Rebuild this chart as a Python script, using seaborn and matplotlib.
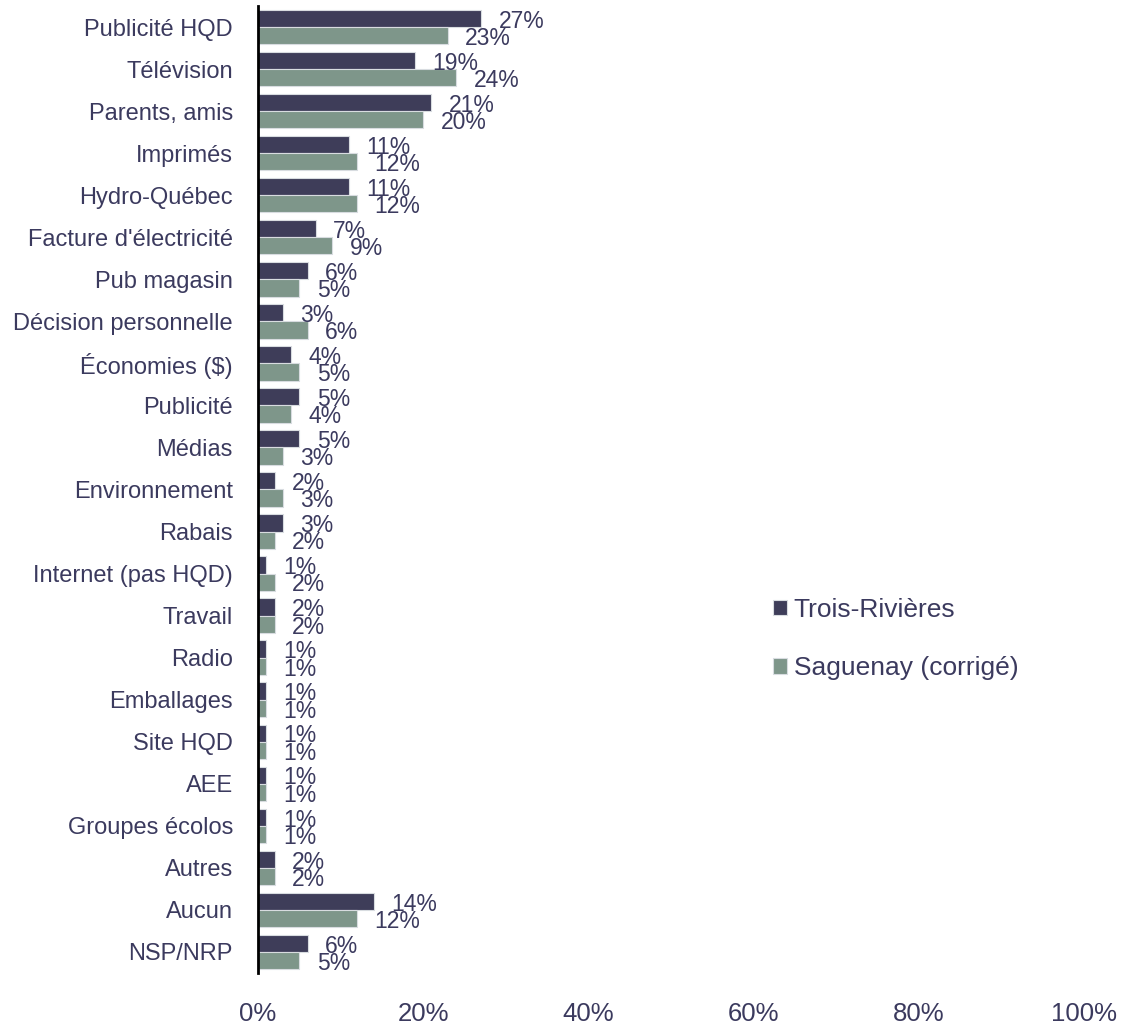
import matplotlib
matplotlib.use("Agg")
import matplotlib.pyplot as plt
import seaborn as sns
import pandas as pd

categories = [
    "Publicité HQD", "Télévision", "Parents, amis", "Imprimés", "Hydro-Québec",
    "Facture d'électricité", "Pub magasin", "Décision personnelle", "Économies ($)",
    "Publicité", "Médias", "Environnement", "Rabais", "Internet (pas HQD)",
    "Travail", "Radio", "Emballages", "Site HQD", "AEE", "Groupes écolos",
    "Autres", "Aucun", "NSP/NRP",
]
trois_rivieres = [27, 19, 21, 11, 11, 7, 6, 3, 4, 5, 5, 2, 3, 1, 2, 1, 1, 1, 1, 1, 2, 14, 6]
saguenay = [23, 24, 20, 12, 12, 9, 5, 6, 5, 4, 3, 3, 2, 2, 2, 1, 1, 1, 1, 1, 2, 12, 5]
series_names = ["Trois-Rivières", "Saguenay (corrigé)"]
x_ticks = [0, 20, 40, 60, 80, 100]

navy = "#3a385e"
sage = "#7a9a8a"
text_color = "#3b3a5e"

df = pd.DataFrame({
    "source": categories * 2,
    "pct": trois_rivieres + saguenay,
    "ville": [series_names[0]] * len(categories) + [series_names[1]] * len(categories),
})

sns.set_theme(style="white")
plt.rcParams["font.family"] = ["Liberation Sans", "DejaVu Sans"]

W, H = 1125, 1026
fig = plt.figure(figsize=(W / 100, H / 100), dpi=100)
ax = fig.add_axes([258 / W, 1 - 973 / H, (1084 - 258) / W, (973 - 6) / H])

sns.barplot(
    data=df, y="source", x="pct", hue="ville", order=categories,
    hue_order=series_names, palette=[navy, sage], orient="h",
    width=0.82, gap=0, edgecolor="#d8dce0", linewidth=0.8, ax=ax,
)

# value labels at the end of each bar
for container in ax.containers:
    for patch in container:
        w = patch.get_width()
        yc = patch.get_y() + patch.get_height() / 2
        ax.annotate(f"{w:.0f}%", (w, yc), xytext=(12.5, -2),
                    textcoords="offset points", ha="left", va="center",
                    fontsize=16.5, color=text_color)

ax.set_xlim(0, 100)
ax.set_ylim(len(categories) - 0.5, -0.5)
ax.set_xticks(x_ticks)
ax.set_xticklabels([f"{t}%" for t in x_ticks])
ax.set_xlabel("")
ax.set_ylabel("")
ax.tick_params(axis="x", length=0, pad=21, labelsize=18.5, labelcolor=text_color)
ax.tick_params(axis="y", length=0, pad=18, labelsize=17, labelcolor=text_color)
for side in ["top", "right", "bottom"]:
    ax.spines[side].set_visible(False)
ax.spines["left"].set_color("black")
ax.spines["left"].set_linewidth(2)

handles, labels = ax.get_legend_handles_labels()
ax.get_legend().remove()
fig.legend(handles, labels, loc="center left",
           bbox_to_anchor=(773 / W, 1 - 639 / H), frameon=False,
           fontsize=19, labelcolor=text_color, handlelength=0.53,
           handleheight=0.53, handletextpad=0.25, labelspacing=1.3,
           borderpad=0, borderaxespad=0)

fig.savefig("out.png", dpi=100, facecolor="white")
